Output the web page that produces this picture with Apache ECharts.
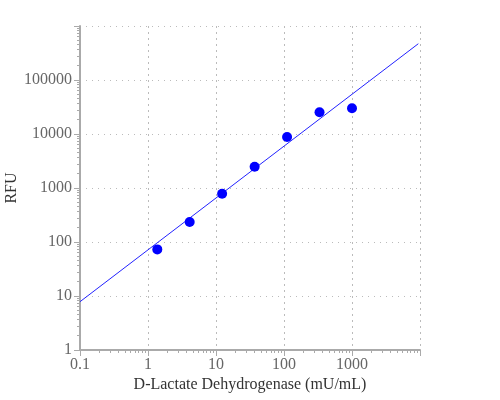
<!DOCTYPE html>
<html>
<head>
<meta charset="utf-8">
<script src="https://cdn.jsdelivr.net/npm/echarts@6/dist/echarts.min.js"></script>
<style>
  html, body { margin: 0; padding: 0; background: #fff; }
  #chart { width: 500px; height: 400px; }
</style>
</head>
<body>
<div id="chart"></div>
<script>
// standard curve points (mU/mL vs RFU)
var conc = [1.37, 4.1, 12.3, 37, 111, 333, 1000];
var rfu = [73, 234, 784, 2480, 8800, 25200, 29900];
// fitted line end points
var fitX = [0.1, 9450];
var fitY = [7.84, 470000];

var dom = document.getElementById('chart');
var myChart = echarts.init(dom);

var points = conc.map(function (c, i) { return [c, rfu[i]]; });
var fit = fitX.map(function (x, i) { return [x, fitY[i]]; });

function plain(v) { return String(+v.toPrecision(6)); }

var labelStyle = { fontFamily: 'Liberation Serif', fontSize: 16, color: '#666', formatter: plain };
var nameStyle = { fontFamily: 'Liberation Serif', fontSize: 16, color: '#333' };

var option = {
  animation: false,
  grid: { left: 80, right: 80, top: 26, bottom: 50, containLabel: false, outerBoundsMode: 'none' },
  xAxis: {
    type: 'log',
    logBase: 10,
    min: 0.1,
    max: 10000,
    name: 'D-Lactate Dehydrogenase (mU/mL)',
    nameLocation: 'middle',
    nameGap: 27,
    nameMoveOverlap: false,
    nameTextStyle: nameStyle,
    axisLine: { lineStyle: { color: '#aaa', width: 2 } },
    axisTick: { length: 6, lineStyle: { color: '#aaa' } },
    minorTick: { show: true, splitNumber: 10, length: 3, lineStyle: { color: '#aaa' } },
    axisLabel: Object.assign({ showMaxLabel: false, margin: 7 }, labelStyle),
    splitLine: { show: true, lineStyle: { color: '#bbb', type: [2, 4] } }
  },
  yAxis: {
    type: 'log',
    logBase: 10,
    min: 1,
    max: 1000000,
    name: 'RFU',
    nameLocation: 'middle',
    nameGap: 60,
    nameMoveOverlap: false,
    nameTextStyle: nameStyle,
    axisLine: { lineStyle: { color: '#aaa', width: 2 } },
    axisTick: { length: 6, lineStyle: { color: '#aaa' } },
    minorTick: { show: true, splitNumber: 10, length: 3, lineStyle: { color: '#aaa' } },
    axisLabel: Object.assign({ showMaxLabel: false, margin: 8 }, labelStyle),
    splitLine: { show: true, lineStyle: { color: '#bbb', type: [1, 5] } }
  },
  series: [
    {
      type: 'line',
      data: fit,
      symbol: 'none',
      lineStyle: { color: '#2222ff', width: 1 },
      z: 2
    },
    {
      type: 'scatter',
      data: points,
      symbolSize: 10,
      itemStyle: { color: '#0000ff', opacity: 1 },
      z: 3
    }
  ]
};
myChart.setOption(option);
</script>
</body>
</html>
